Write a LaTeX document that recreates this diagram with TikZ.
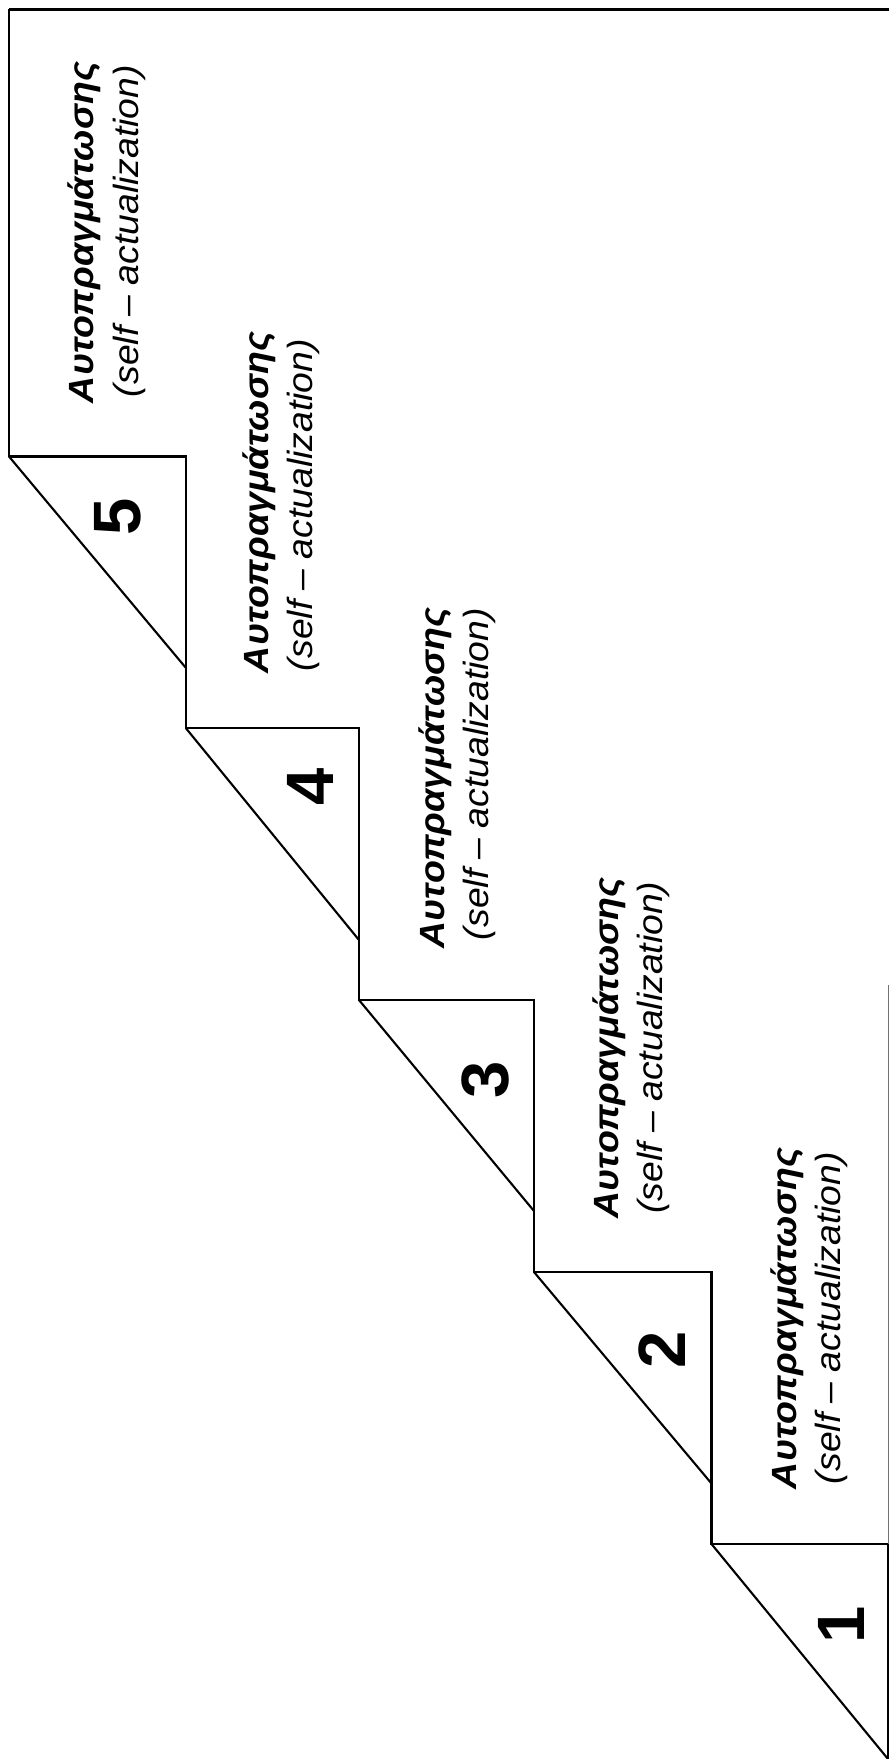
\documentclass[tikz,border=0pt]{standalone}
\usepackage{fontspec}
\usepackage{graphicx}
\setmainfont{Liberation Sans}
\newcommand{\grline}{\resizebox{341pt}{\height}{\bfseries\itshape Αυτοπραγμάτωσης}}
\newcommand{\enline}{\resizebox{332pt}{\height}{\itshape (self – actualization)}}
\tikzset{
  stair/.style={line width=2.1pt, line join=miter, black},
  frame/.style={line width=3pt, black},
  grtxt/.style={rotate=90, anchor=base, inner sep=0pt, font=\fontsize{35}{42}\selectfont},
  entxt/.style={rotate=90, anchor=base, inner sep=0pt, font=\fontsize{35}{42}\selectfont},
  digit/.style={rotate=90, anchor=center, inner sep=0pt, font=\fontsize{67}{70}\selectfont\bfseries}
}
\begin{document}
\begin{tikzpicture}[x=1pt,y=-1pt]
\fill[white] (0,0) rectangle (889,1759);
\useasboundingbox (0,0) rectangle (889,1759);
% corner coordinates
\coordinate (tl) at (9,9);
\coordinate (tr) at (889,9);
\coordinate (s5a) at (9,456.5);   \coordinate (s5b) at (186,456.5);  \coordinate (s5c) at (186,668);
\coordinate (s4a) at (186,728.3); \coordinate (s4b) at (359,728.3);  \coordinate (s4c) at (359,940);
\coordinate (s3a) at (359,1000);  \coordinate (s3b) at (534,1000);   \coordinate (s3c) at (534,1211);
\coordinate (s2a) at (534,1272);  \coordinate (s2b) at (711.5,1272); \coordinate (s2c) at (711.5,1483.5);
\coordinate (s1a) at (711.5,1544);\coordinate (s1b) at (888,1544);   \coordinate (s1c) at (888,1759);
\coordinate (rtop) at (888,985);
% frame
\draw[frame] (tl) -- (tr);
\draw[line width=2.4pt] (tl) -- (s5a);
% stairs outline
\draw[stair] (s5a) -- (s5b) -- (s4a) -- (s4b) -- (s3a) -- (s3b) -- (s2a) -- (s2b) -- (s1a) -- (s1b) -- (s1c);
% diagonals
\draw[stair] (s5a) -- (s5c);
\draw[stair] (s4a) -- (s4c);
\draw[stair] (s3a) -- (s3c);
\draw[stair] (s2a) -- (s2c);
\draw[stair] (s1a) -- (s1c);
% faint right edge
\draw[line width=1pt, black!55] (rtop) -- (s1b);
% step numbers
\node[digit] (n5) at (118,517) {5};
\node[digit] (n4) at (310,787) {4};
\node[digit] (n3) at (485,1080) {3};
\node[digit] (n2) at (662,1350) {2};
\node[digit] (n1) at (841,1625) {1};
% labels
\node[grtxt] (g0) at (93,232.5) {\grline};
\node[entxt] (e0) at (138,231) {\enline};
\node[grtxt] (g1) at (268,502.5) {\grline};
\node[entxt] (e1) at (312,505) {\enline};
\node[grtxt] (g2) at (444,778) {\grline};
\node[entxt] (e2) at (488,774) {\enline};
\node[grtxt] (g3) at (618,1048) {\grline};
\node[entxt] (e3) at (662,1047.5) {\enline};
\node[grtxt] (g4) at (796,1318.5) {\grline};
\node[entxt] (e4) at (840,1318) {\enline};
\end{tikzpicture}
\end{document}
